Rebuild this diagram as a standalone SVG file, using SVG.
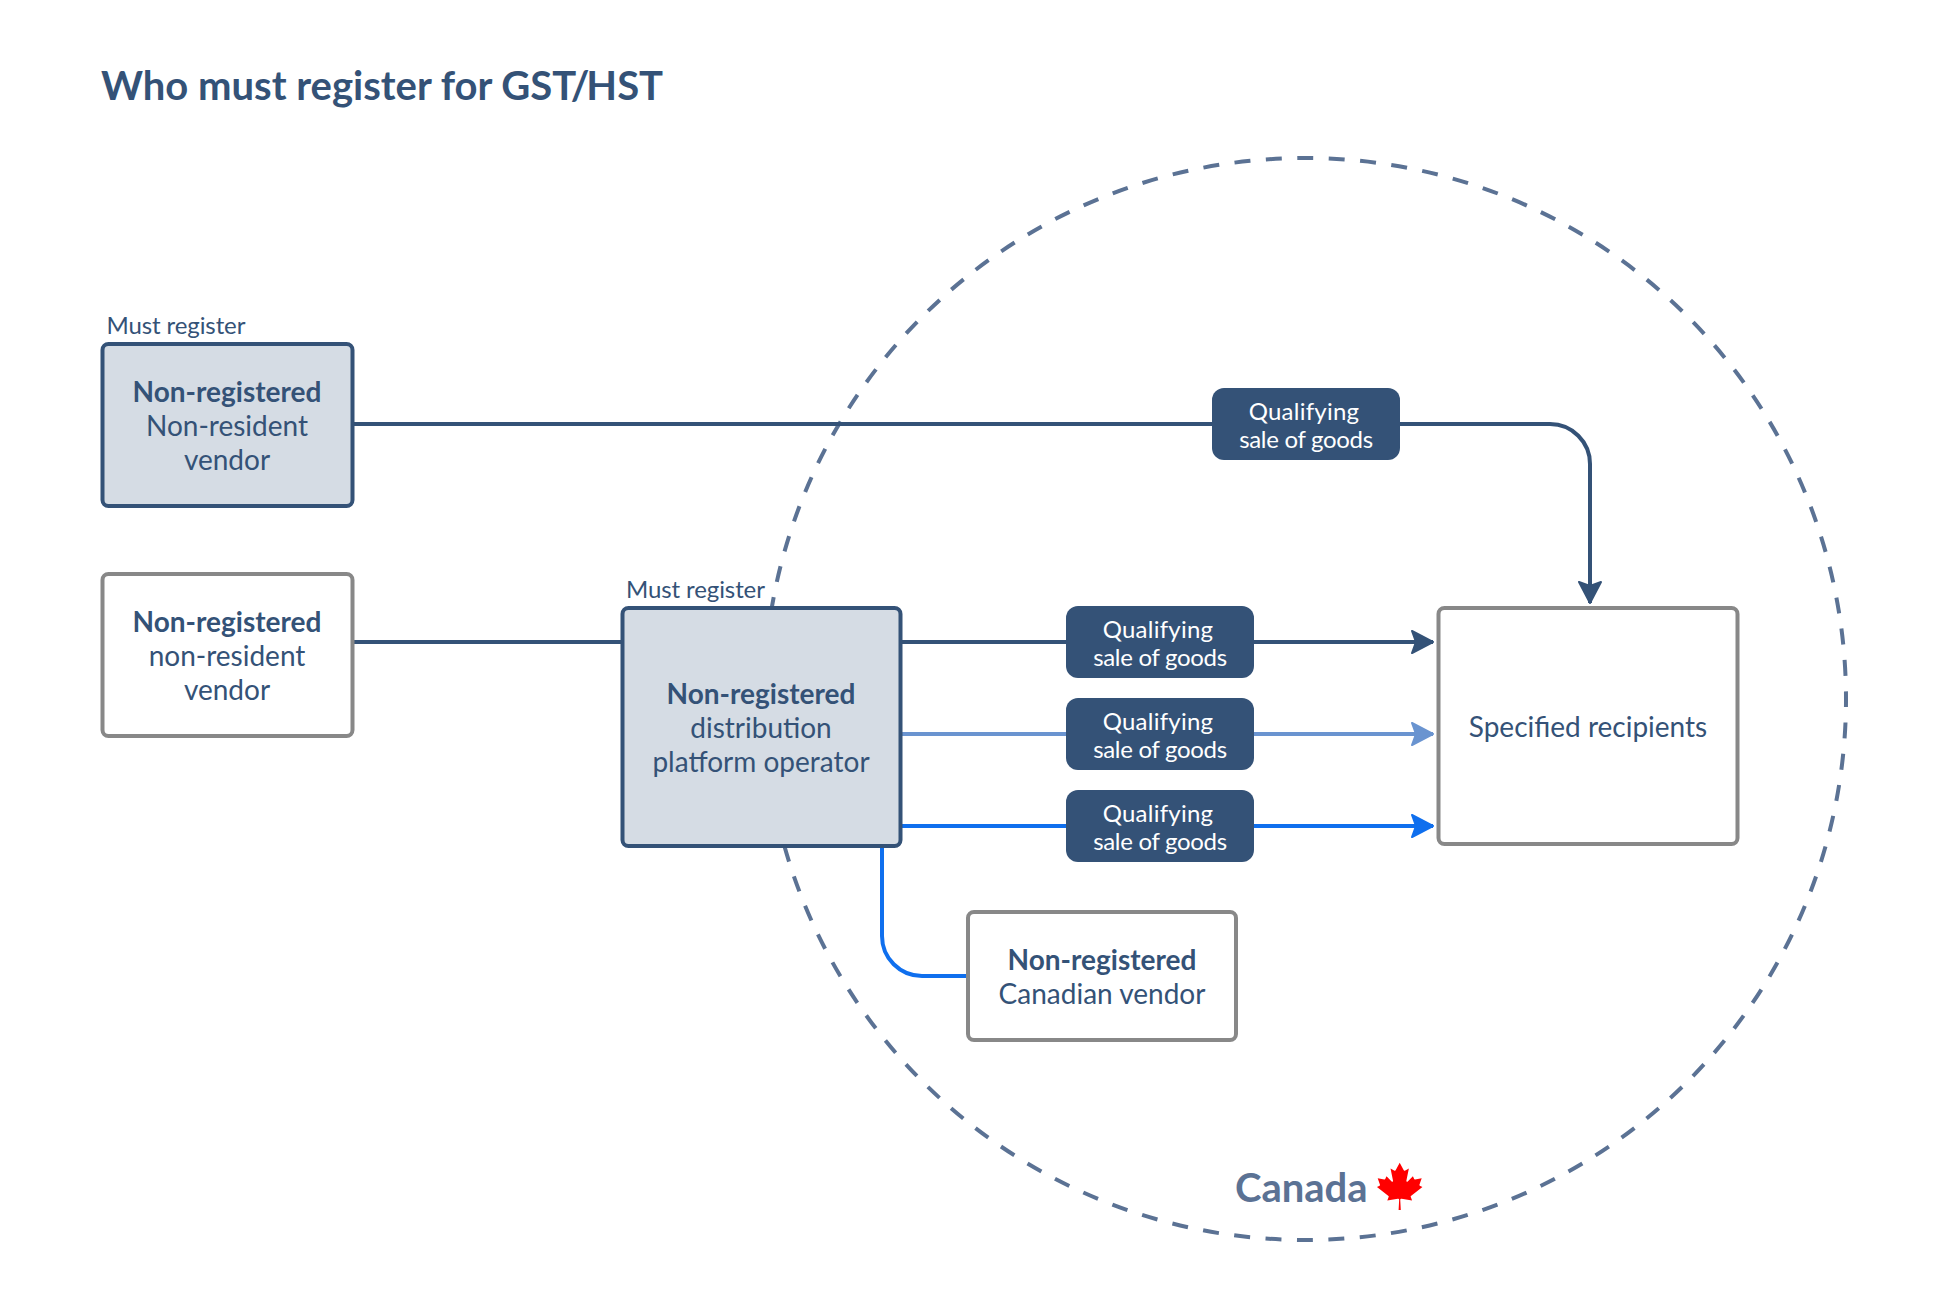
<svg xmlns="http://www.w3.org/2000/svg" width="1948" height="1302" viewBox="0 0 1948 1302">
<style>
text{font-family:Lato,"Liberation Sans",sans-serif;fill:#345277}
.t{font-size:28px;text-anchor:middle}
.b{font-weight:700}
.m{font-size:24px;letter-spacing:-.1px}
.q{font-size:24px;fill:#fff;text-anchor:middle;letter-spacing:.25px}
.s{font-size:24px;fill:#fff;text-anchor:middle;letter-spacing:-.3px}
.box{stroke-width:4}
.reg{fill:#d5dce4;stroke:#345277}
.oth{fill:#fff;stroke:#888}
.pill{fill:#345277}
.c{fill:none;stroke-width:4}
.dark{stroke:#345277}
.light{stroke:#6a94d0}
.bright{stroke:#0f6fee}
</style>
<defs>
<path id="ah" d="M-21-11L0 0L-21 11L-17 0Z" stroke-width="2" stroke-linejoin="round"/>
<marker id="mDark" markerUnits="userSpaceOnUse" markerWidth="30" markerHeight="30" refX="0" refY="0" viewBox="-27 -15 30 30" orient="auto"><use href="#ah" fill="#345277" stroke="#345277"/></marker>
<marker id="mLight" markerUnits="userSpaceOnUse" markerWidth="30" markerHeight="30" refX="0" refY="0" viewBox="-27 -15 30 30" orient="auto"><use href="#ah" fill="#6a94d0" stroke="#6a94d0"/></marker>
<marker id="mBright" markerUnits="userSpaceOnUse" markerWidth="30" markerHeight="30" refX="0" refY="0" viewBox="-27 -15 30 30" orient="auto"><use href="#ah" fill="#0f6fee" stroke="#0f6fee"/></marker>
</defs>
<rect width="1948" height="1302" fill="#fff"/>
<text id="title" x="101" y="100" font-size="40" font-weight="700">Who must register for GST<tspan dx="-3">/</tspan><tspan dx="-3">HST</tspan></text>
<g id="canada">
<circle cx="1305" cy="699" r="541" fill="none" stroke="#5b7294" stroke-width="4" stroke-dasharray="16 15.474" stroke-dashoffset="8"/>
<text x="1235" y="1202" font-size="40" font-weight="700" style="fill:#5b7294">Canada</text>
<path transform="translate(1399.7 1186.2) scale(.01222 .01174)" fill="#f00" d="m-90 2030 45-863a95 95 0 0 0-111-98l-859 151 116-320a65 65 0 0 0-20-73l-941-762 212-99a65 65 0 0 0 34-79l-186-572 542 115a65 65 0 0 0 73-38l105-247 423 454a65 65 0 0 0 111-57l-204-1052 327 189a65 65 0 0 0 91-27l332-652 332 652a65 65 0 0 0 91 27l327-189-204 1052a65 65 0 0 0 111 57l423-454 105 247a65 65 0 0 0 73 38l542-115-186 572a65 65 0 0 0 34 79l212 99-941 762a65 65 0 0 0-20 73l116 320-859-151a95 95 0 0 0-111 98l45 863z"/>
</g>
<g id="connectors">
<path class="c dark" d="M353 424H1550a40 40 0 0 1 40 40V603" marker-end="url(#mDark)"/>
<path class="c dark" d="M353 642H1433" marker-end="url(#mDark)"/>
<path class="c light" d="M900 734H1433" marker-end="url(#mLight)"/>
<path class="c bright" d="M900 826H1433" marker-end="url(#mBright)"/>
<path class="c bright" d="M882 846V936a40 40 0 0 0 40 40H968"/>
</g>
<g id="vendor-a">
<text class="m" x="106.500" y="334">Must register</text>
<rect class="box reg" x="102.500" y="344" width="250" height="162" rx="6"/>
<text class="t b" x="227" y="402">Non-registered</text>
<text class="t" x="227" y="436">Non-resident</text>
<text class="t" x="227" y="470">vendor</text>
</g>
<g id="vendor-b">
<rect class="box oth" x="102.500" y="574" width="250" height="162" rx="6"/>
<text class="t b" x="227" y="632">Non-registered</text>
<text class="t" x="227" y="666">non-resident</text>
<text class="t" x="227" y="700">vendor</text>
</g>
<g id="platform">
<text class="m" x="626" y="598">Must register</text>
<rect class="box reg" x="622.500" y="608" width="278" height="238" rx="6"/>
<text class="t b" x="761" y="704">Non-registered</text>
<text class="t" x="761" y="738">distribution</text>
<text class="t" x="761" y="772">platform operator</text>
</g>
<g id="canadian-vendor">
<rect class="box oth" x="968" y="912" width="268" height="128" rx="6"/>
<text class="t b" x="1102" y="970">Non-registered</text>
<text class="t" x="1102" y="1004">Canadian vendor</text>
</g>
<g id="recipients">
<rect class="box oth" x="1438.500" y="608" width="299" height="236" rx="6"/>
<text class="t" x="1588" y="737">Specified recipients</text>
</g>
<g id="pill-top">
<rect class="pill" x="1212" y="388" width="188" height="72" rx="12"/>
<text class="q" x="1304" y="420">Qualifying</text>
<text class="s" x="1306" y="448">sale of goods</text>
</g>
<g id="pill-1">
<rect class="pill" x="1066" y="606" width="188" height="72" rx="12"/>
<text class="q" x="1158" y="638">Qualifying</text>
<text class="s" x="1160" y="666">sale of goods</text>
</g>
<g id="pill-2">
<rect class="pill" x="1066" y="698" width="188" height="72" rx="12"/>
<text class="q" x="1158" y="730">Qualifying</text>
<text class="s" x="1160" y="758">sale of goods</text>
</g>
<g id="pill-3">
<rect class="pill" x="1066" y="790" width="188" height="72" rx="12"/>
<text class="q" x="1158" y="822">Qualifying</text>
<text class="s" x="1160" y="850">sale of goods</text>
</g>
</svg>
